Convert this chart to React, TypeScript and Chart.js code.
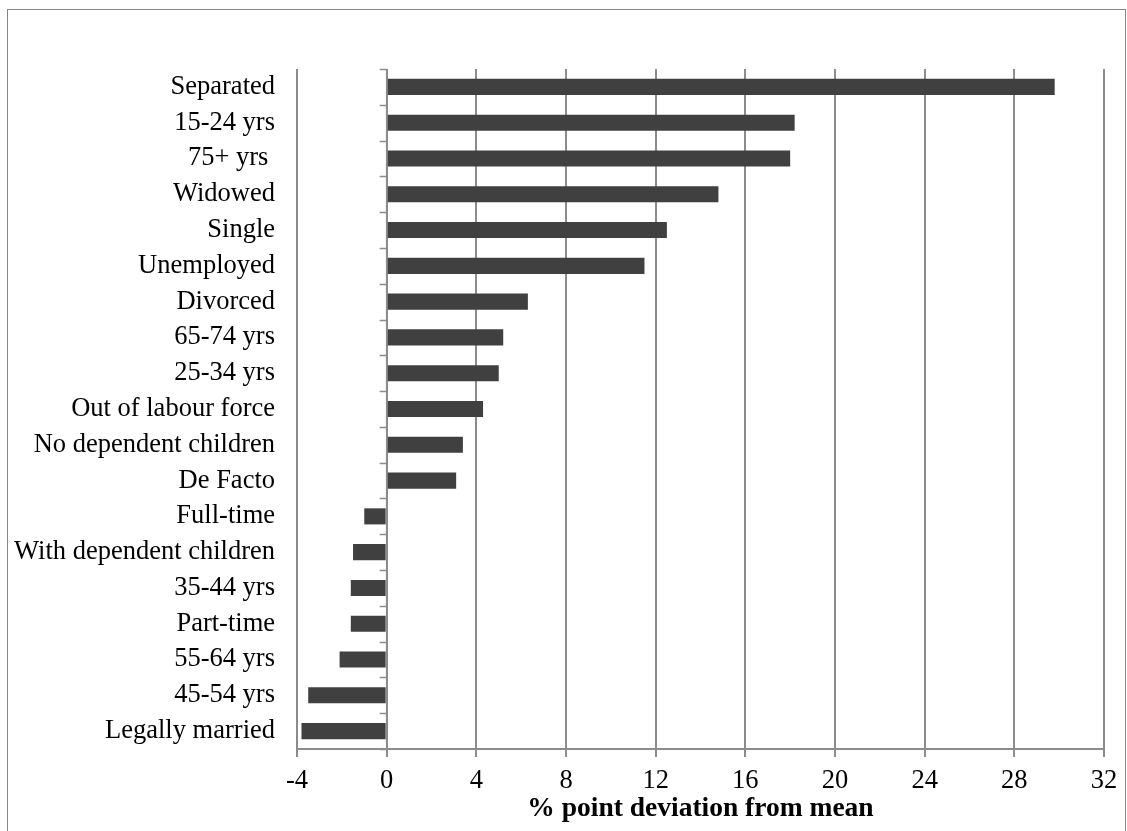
import { useEffect, useRef } from "react";
import { Chart, registerables } from "chart.js";

Chart.register(...registerables);

// Groups, top to bottom
const categories = [
  "Separated",
  "15-24 yrs",
  "75+ yrs ",
  "Widowed",
  "Single",
  "Unemployed",
  "Divorced",
  "65-74 yrs",
  "25-34 yrs",
  "Out of labour force",
  "No dependent children",
  "De Facto",
  "Full-time",
  "With dependent children",
  "35-44 yrs",
  "Part-time",
  "55-64 yrs",
  "45-54 yrs",
  "Legally married",
];

// Percentage-point deviation from the mean for each group
const deviations = [
  29.8, 18.2, 18.0, 14.8, 12.5, 11.5, 6.3, 5.2, 5.0, 4.3, 3.4, 3.1,
  -1.0, -1.5, -1.6, -1.6, -2.1, -3.5, -3.8,
];

const xMin = -4;
const xMax = 32;
const xStep = 4;
const xTitle = "% point deviation from mean";

const FONT = "'Liberation Serif', 'Times New Roman', serif";
const GRID = "#8c8c8c";
const BAR = "#404040";

// Small tick marks on the zero line, between category rows
const zeroAxisTicks = {
  id: "zeroAxisTicks",
  afterDatasetsDraw(chart: any) {
    const { ctx, chartArea, scales } = chart;
    const x0 = scales.x.getPixelForValue(0);
    const n = categories.length;
    const step = chartArea.height / n;
    ctx.save();
    ctx.strokeStyle = GRID;
    ctx.lineWidth = 1.5;
    ctx.beginPath();
    ctx.moveTo(x0, chartArea.top);
    ctx.lineTo(x0, chartArea.bottom);
    for (let i = 0; i <= n; i++) {
      const y = Math.round(chartArea.top + i * step) + 0.5;
      ctx.moveTo(x0 - 7, y);
      ctx.lineTo(x0, y);
    }
    ctx.stroke();
    ctx.restore();
  },
};

export default function App() {
  const canvasRef = useRef<HTMLCanvasElement | null>(null);

  useEffect(() => {
    const canvas = canvasRef.current;
    if (!canvas) return;
    const chart = new Chart(canvas, {
      type: "bar",
      data: {
        labels: categories,
        datasets: [
          {
            data: deviations,
            backgroundColor: BAR,
            borderWidth: 0,
            barPercentage: 0.45,
            categoryPercentage: 1,
          },
        ],
      },
      options: {
        indexAxis: "y",
        responsive: false,
        animation: false,
        layout: { padding: { top: 69, right: 23, left: 0, bottom: 0 } },
        plugins: {
          legend: { display: false },
          tooltip: { enabled: false },
        },
        scales: {
          x: {
            min: xMin,
            max: xMax,
            ticks: {
              stepSize: xStep,
              color: "#000",
              font: { family: FONT, size: 26.5 },
              padding: 8,
              maxRotation: 0,
            },
            grid: {
              color: GRID,
              lineWidth: 2,
              drawTicks: true,
              tickLength: 8,
            },
            border: { color: GRID, width: 2 },
            title: {
              display: true,
              text: xTitle,
              color: "#000",
              font: { family: FONT, size: 27.5, weight: "bold" },
              padding: { top: 0, bottom: 6 },
            },
            afterFit(scale: any) {
              scale.height = 82;
            },
          },
          y: {
            grid: { display: false, drawTicks: false },
            border: { display: false },
            ticks: {
              color: "#000",
              font: { family: FONT, size: 26.5 },
              padding: 22,
              autoSkip: false,
            },
            afterFit(scale: any) {
              scale.width = 297;
            },
          },
        },
      },
      plugins: [zeroAxisTicks],
    });
    return () => chart.destroy();
  }, []);

  return (
    <div
      style={{
        position: "fixed",
        left: 0,
        top: 0,
        width: 1127,
        height: 831,
        overflow: "hidden",
        background: "#fff",
      }}
    >
      <div
        style={{
          position: "absolute",
          left: 7,
          top: 9,
          width: 1119,
          height: 900,
          boxSizing: "border-box",
          border: "1px solid #868686",
        }}
      />
      <canvas
        ref={canvasRef}
        width={1127}
        height={831}
        style={{ position: "absolute", left: 0, top: 0, width: 1127, height: 831 }}
      />
    </div>
  );
}
